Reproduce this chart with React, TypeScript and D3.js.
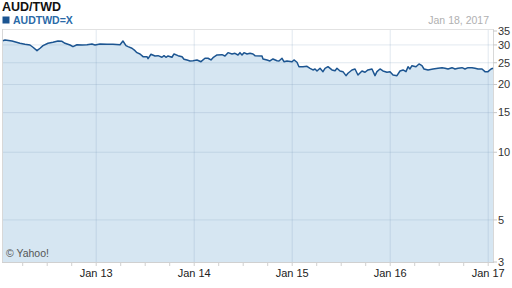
import React from "react";
import * as d3 from "d3";

// Fractional years (date index) and AUD/TWD closing values
const years: number[] = [
  2012.049, 2012.069, 2012.141, 2012.222, 2012.273, 2012.324, 2012.355, 2012.396, 2012.427, 2012.457,
  2012.508, 2012.559, 2012.610, 2012.651, 2012.682, 2012.733, 2012.763, 2012.804, 2012.855, 2012.906,
  2012.957, 2012.988, 2013.039, 2013.110, 2013.171, 2013.243, 2013.273, 2013.304, 2013.325, 2013.365,
  2013.396, 2013.416, 2013.447, 2013.478, 2013.518, 2013.529, 2013.559, 2013.600, 2013.631, 2013.671,
  2013.692, 2013.712, 2013.733, 2013.773, 2013.794, 2013.835, 2013.876, 2013.896, 2013.927, 2013.957,
  2013.988, 2014.029, 2014.069, 2014.110, 2014.141, 2014.171, 2014.192, 2014.233, 2014.284, 2014.314,
  2014.345, 2014.386, 2014.416, 2014.447, 2014.467, 2014.488, 2014.508, 2014.539, 2014.569, 2014.600,
  2014.620, 2014.692, 2014.702, 2014.743, 2014.773, 2014.804, 2014.845, 2014.865, 2014.896, 2014.916,
  2014.947, 2014.998, 2015.018, 2015.049, 2015.069, 2015.110, 2015.151, 2015.182, 2015.212, 2015.233,
  2015.253, 2015.284, 2015.314, 2015.335, 2015.365, 2015.406, 2015.437, 2015.457, 2015.488, 2015.518,
  2015.549, 2015.569, 2015.610, 2015.641, 2015.671, 2015.712, 2015.743, 2015.773, 2015.814, 2015.845,
  2015.865, 2015.896, 2015.926, 2015.967, 2015.998, 2016.029, 2016.069, 2016.100, 2016.131, 2016.161,
  2016.182, 2016.202, 2016.222, 2016.263, 2016.294, 2016.324, 2016.345, 2016.386, 2016.437, 2016.488,
  2016.529, 2016.559, 2016.590, 2016.631, 2016.661, 2016.692, 2016.733, 2016.763, 2016.794, 2016.835,
  2016.865, 2016.896, 2016.937, 2016.967, 2016.998, 2017.029, 2017.049,
];

const rates: number[] = [
  31.33, 31.56, 31.23, 30.51, 30.20, 29.98, 29.29, 28.29, 28.99, 29.77,
  30.51, 30.82, 31.23, 31.14, 30.51, 29.98, 29.47, 30.07, 29.98, 30.07,
  30.29, 29.98, 30.29, 30.20, 30.20, 30.07, 31.23, 29.77, 29.47, 28.99,
  28.29, 27.72, 27.35, 26.60, 26.60, 26.06, 27.27, 26.79, 26.88, 26.44,
  26.88, 26.44, 26.79, 26.44, 27.35, 26.88, 26.60, 25.90, 25.72, 25.46,
  25.53, 25.72, 25.27, 26.17, 26.17, 25.72, 26.33, 27.07, 27.15, 26.79,
  27.72, 27.35, 27.54, 27.07, 27.72, 27.07, 27.72, 27.35, 27.54, 27.35,
  26.88, 26.79, 25.98, 25.72, 25.46, 25.98, 25.53, 25.46, 26.17, 25.27,
  25.46, 25.27, 25.72, 25.12, 24.01, 24.01, 24.11, 23.62, 23.22, 23.45,
  22.98, 23.62, 22.82, 23.62, 24.01, 23.22, 23.05, 23.62, 22.98, 22.82,
  21.90, 22.44, 23.22, 23.45, 22.06, 22.98, 22.68, 23.22, 23.45, 21.90,
  22.82, 23.45, 22.98, 22.68, 22.82, 22.06, 21.90, 22.98, 23.22, 22.82,
  24.01, 23.45, 24.26, 24.01, 24.69, 24.26, 23.45, 23.22, 23.45, 23.62,
  23.77, 23.62, 23.45, 23.77, 23.45, 23.62, 23.77, 23.45, 23.77, 23.77,
  23.62, 23.45, 23.45, 22.82, 22.82, 23.45, 23.62,
];

const yearTicks: number[] = [2013, 2014, 2015, 2016, 2017];
const yearLabels: string[] = ["Jan 13", "Jan 14", "Jan 15", "Jan 16", "Jan 17"];
const quarterTicks: number[] = [
  2012.25, 2012.5, 2012.75, 2013, 2013.25, 2013.5, 2013.75, 2014, 2014.25, 2014.5, 2014.75,
  2015, 2015.25, 2015.5, 2015.75, 2016, 2016.25, 2016.5, 2016.75, 2017,
];
const yTickValues: number[] = [34.6, 30, 25, 20, 15, 10, 5, 3.25];
const yTickLabels: string[] = ["35", "30", "25", "20", "15", "10", "5", "3"];
const yDomain: number[] = [3.25, 34.6];
const xDomain: number[] = [2012.049, 2017.049];

const title = "AUD/TWD";
const seriesName = "AUDTWD=X";
const dateLabel = "Jan 18, 2017";
const credit = "© Yahoo!";

export default function App() {
  const W = 512, H = 288;
  const left = 2, right = 493, top = 29, bottom = 262;
  const x = d3.scaleLinear().domain(xDomain).range([3, right]);
  const y = d3.scaleLog().domain(yDomain).range([bottom, 31]);
  const data = years.map((t, i) => ({ t, v: rates[i] }));
  const area = d3.area<{ t: number; v: number }>()
    .x(d => x(d.t)).y0(bottom).y1(d => y(d.v));
  const line = d3.line<{ t: number; v: number }>()
    .x(d => x(d.t)).y(d => y(d.v));
  const font = "'Liberation Sans', Arial, sans-serif";
  const grid = "rgba(120,150,180,0.22)";
  const lineColor = "#1c5591";

  return (
    <svg width={W} height={H} style={{ position: "absolute", left: 0, top: 0 }} fontFamily={font}>
      <rect x={0} y={0} width={W} height={H} fill="#fff" />
      <text x={2} y={11} fontSize={12.5} fontWeight="bold" fill="#111">{title}</text>
      <rect x={2.5} y={16.5} width={7} height={7} fill={lineColor} />
      <text x={13} y={24} fontSize={10.5} fontWeight="bold" fill="#2a6aa8">{seriesName}</text>
      <text x={489} y={24} fontSize={10.5} fill="#b0b0b0" textAnchor="end">{dateLabel}</text>

      <path d={area(data) || ""} fill="#d6e6f2" />
      {yTickValues.slice(1, -1).map((v, i) => (
        <line key={"hg" + i} x1={left} x2={right} y1={y(v)} y2={y(v)} stroke={grid} />
      ))}
      {yearTicks.map((t, i) => (
        <line key={"vg" + i} x1={x(t)} x2={x(t)} y1={top} y2={bottom} stroke={grid} />
      ))}
      <line x1={left} x2={right} y1={top + 0.5} y2={top + 0.5} stroke="#e2e2e2" />
      <line x1={left + 0.5} x2={left + 0.5} y1={top} y2={bottom} stroke="#d8d8d8" />
      <line x1={right + 0.5} x2={right + 0.5} y1={top} y2={bottom} stroke="#d8d8d8" />
      <line x1={left} x2={right + 1} y1={bottom + 0.5} y2={bottom + 0.5} stroke="#d0d0d0" />

      <path d={line(data) || ""} fill="none" stroke={lineColor} strokeWidth={1.5} strokeLinejoin="round" />

      {quarterTicks.map((t, i) => (
        <line key={"qt" + i} x1={x(t)} x2={x(t)} y1={bottom} y2={bottom + 4} stroke="#d0d0d0" />
      ))}
      {yearTicks.map((t, i) => (
        <text key={"xl" + i} x={x(t)} y={277} fontSize={11} fill="#222" textAnchor="middle">{yearLabels[i]}</text>
      ))}
      {yTickValues.map((v, i) => (
        <g key={"yt" + i}>
          <line x1={right} x2={right + 4} y1={y(v)} y2={y(v)} stroke="#c8c8c8" />
          <text x={498} y={y(v)} dy="0.35em" fontSize={11} fill="#333">{yTickLabels[i]}</text>
        </g>
      ))}
      <text x={6} y={257} fontSize={10.5} fill="#555">{credit}</text>
    </svg>
  );
}
